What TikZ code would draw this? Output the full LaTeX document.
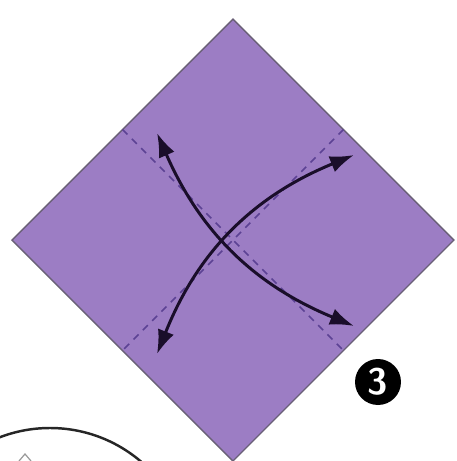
\documentclass[tikz,border=0pt]{standalone}
\usetikzlibrary{arrows.meta,calc}
\definecolor{paper}{RGB}{156,125,196}
\definecolor{edgegray}{RGB}{105,96,118}
\definecolor{creasecol}{RGB}{92,66,148}
\definecolor{arrowcol}{RGB}{26,14,42}

\begin{document}
\begin{tikzpicture}[
  x=0.02cm, y=-0.02cm,
  sheet/.style={fill=paper, draw=edgegray, line width=0.8pt},
  crease/.style={draw=creasecol, line width=0.9pt, dash pattern=on 4pt off 3.5pt},
  fold/.style={{Latex[length=4.8mm,width=3.4mm]}-{Latex[length=4.8mm,width=3.4mm]}, line width=1.7pt, draw=arrowcol},
  stepnum/.style={circle, fill=black, text=white, inner sep=0pt, minimum size=0.92cm, font=\sffamily\bfseries\fontsize{21}{21}\selectfont},
  nextfig/.style={draw=black!85, line width=1.4pt}
]
  \useasboundingbox (0,0) rectangle (457,461);
  \clip (0,0) rectangle (457,461);

  % Paper corners
  \coordinate (top) at (233,19);
  \coordinate (right) at (454,240);
  \coordinate (bottom) at (233,461);
  \coordinate (left) at (12,240);

  % Edge midpoints
  \coordinate (tl) at ($(top)!0.5!(left)$);
  \coordinate (tr) at ($(top)!0.5!(right)$);
  \coordinate (bl) at ($(bottom)!0.5!(left)$);
  \coordinate (br) at ($(bottom)!0.5!(right)$);

  % Sheet
  \draw[sheet] (top) -- (right) -- (bottom) -- (left) -- cycle;

  % Creases
  \draw[crease] (tl) -- (br);
  \draw[crease] (tr) -- (bl);

  % Fold arrows
  \coordinate (a1) at (157,133);
  \coordinate (a2) at (354,326);
  \coordinate (b1) at (157,354);
  \coordinate (b2) at (354,155);
  \draw[fold] (a1) to[bend right=22] (a2);
  \draw[fold] (b1) to[bend left=23] (b2);

  % Step number
  \node[stepnum] (step3) at (378,382) {3};

  % Next figure
  \draw[nextfig] (50,568) circle (140);
  \draw[draw=black!40, line width=0.7pt] (19,461) -- (25,454) -- (31,461);
\end{tikzpicture}
\end{document}
